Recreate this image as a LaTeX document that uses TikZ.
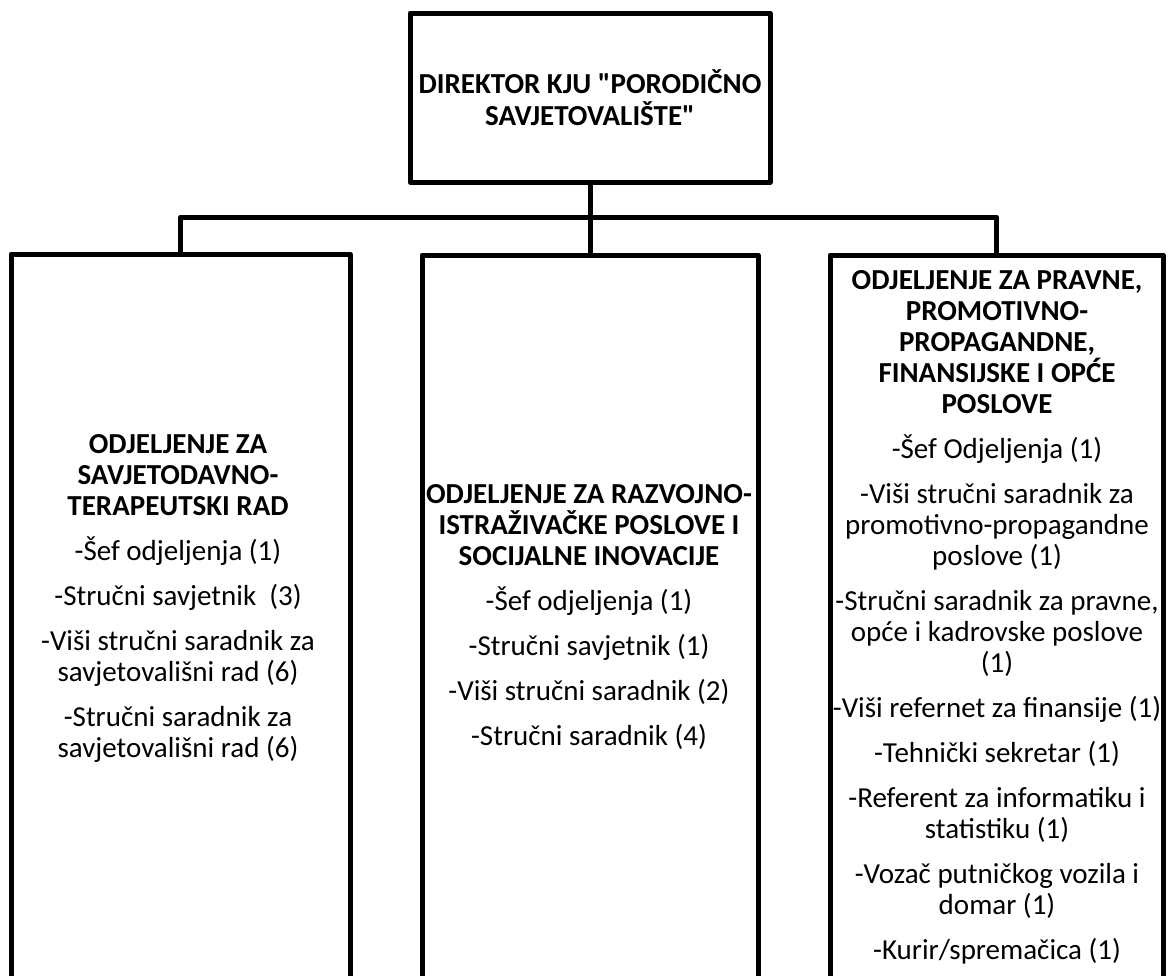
\documentclass[tikz,border=0pt]{standalone}
\usepackage{fontspec}
\setmainfont{Carlito}[Ligatures=TeXOff]
\tikzset{
  frame/.style={draw=black, line width=5pt, line join=round, inner sep=0pt, outer sep=0pt},
  conn/.style={draw=black, line width=5pt, line join=round},
  body/.style={align=center, inner sep=0pt, outer sep=0pt, anchor=base,
    font=\fontsize{29}{31}\selectfont},
}
\begin{document}
\begin{tikzpicture}[x=1pt, y=-1pt]
\useasboundingbox (0,0) rectangle (1169,975);
\clip (0,0) rectangle (1169,975);
% director
\node[frame, minimum width=360pt, minimum height=169pt, align=center,
  font=\fontsize{29}{32}\selectfont\bfseries] (dir) at (590,97.5)
  {DIREKTOR KJU "PORODIČNO\\SAVJETOVALIŠTE"};
% department boxes (extend past the bottom edge)
\node[frame, minimum width=339pt, minimum height=760pt, anchor=north] (L) at (180.5,254) {};
\node[frame, minimum width=336pt, minimum height=760pt, anchor=north] (M) at (590,255) {};
\node[frame, minimum width=333pt, minimum height=760pt, anchor=north] (R) at (996.5,255) {};
% connectors
\coordinate (bus) at (590,217);
\draw[conn] (dir.south) -- (M.north);
\draw[conn] (L.north) |- (bus) -| (R.north);
% texts (base anchor = baseline of the last line)
\node[body] (Lt) at (178,757) {%
  \textbf{ODJELJENJE ZA}\\\textbf{SAVJETODAVNO-}\\\textbf{TERAPEUTSKI RAD}\\[14pt]
  -Šef odjeljenja (1)\\[14pt]
  -Stručni savjetnik\ \ (3)\\[14pt]
  -Viši stručni saradnik za\\savjetovališni rad (6)\\[14pt]
  -Stručni saradnik za\\savjetovališni rad (6)};
\node[body] (Mt) at (589,745.5) {%
  \textbf{ODJELJENJE ZA RAZVOJNO-}\\\textbf{ISTRAŽIVAČKE POSLOVE I}\\\textbf{SOCIJALNE INOVACIJE}\\[14pt]
  -Šef odjeljenja (1)\\[14pt]
  -Stručni savjetnik (1)\\[14pt]
  -Viši stručni saradnik (2)\\[14pt]
  -Stručni saradnik (4)};
\node[body] (Rt) at (997,959) {%
  \textbf{ODJELJENJE ZA PRAVNE,}\\\textbf{PROMOTIVNO-}\\\textbf{PROPAGANDNE,}\\\textbf{FINANSIJSKE I OPĆE}\\\textbf{POSLOVE}\\[14pt]
  -Šef Odjeljenja (1)\\[14pt]
  -Viši stručni saradnik za\\promotivno-propagandne\\poslove (1)\\[14pt]
  -Stručni saradnik za pravne,\\opće i kadrovske poslove\\(1)\\[14pt]
  -Viši refernet za finansije (1)\\[14pt]
  -Tehnički sekretar (1)\\[14pt]
  -Referent za informatiku i\\statistiku (1)\\[14pt]
  -Vozač putničkog vozila i\\domar (1)\\[14pt]
  -Kurir/spremačica (1)};
\end{tikzpicture}
\end{document}
